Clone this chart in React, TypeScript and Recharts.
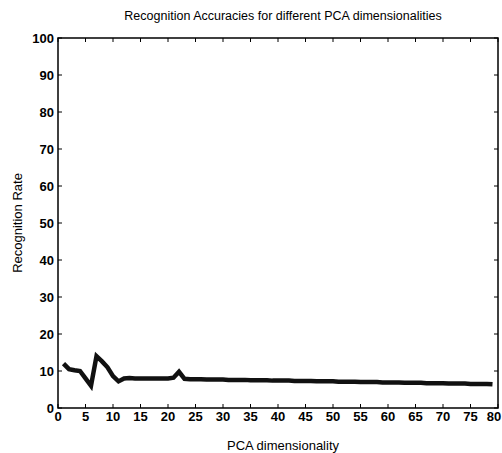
import React from "react";
import { LineChart, Line, XAxis, YAxis, ReferenceArea } from "recharts";

// PCA dimensions evaluated (1..79)
const dims = Array.from({ length: 79 }, (_, i) => i + 1);

// Recognition rate (%), one per dimension
const rates = [
  12, 10.5, 10.2, 10, 8, 6, 14, 12.6, 11, 8.6,
  7.2, 8, 8.1, 8, 8, 8, 8, 8, 8, 8,
  8.2, 9.8, 7.9, 7.8, 7.8, 7.8, 7.7, 7.7, 7.7, 7.7,
  7.6, 7.6, 7.6, 7.6, 7.5, 7.5, 7.5, 7.5, 7.4, 7.4,
  7.4, 7.4, 7.3, 7.3, 7.3, 7.3, 7.2, 7.2, 7.2, 7.2,
  7.1, 7.1, 7.1, 7.1, 7, 7, 7, 7, 6.9, 6.9,
  6.9, 6.9, 6.8, 6.8, 6.8, 6.8, 6.7, 6.7, 6.7, 6.7,
  6.6, 6.6, 6.6, 6.6, 6.5, 6.5, 6.5, 6.5, 6.4,
];

const xTicks = [0, 5, 10, 15, 20, 25, 30, 35, 40, 45, 50, 55, 60, 65, 70, 75, 80];
const yTicks = [0, 10, 20, 30, 40, 50, 60, 70, 80, 90, 100];

const data = dims.map((d, i) => ({ dim: d, rate: rates[i] }));

// plot box edges (px), used for the inward MATLAB-style ticks
const W = 502;
const H = 453;
const LEFT = 58;
const RIGHT = 498;
const TOP = 38;
const BOTTOM = 408;
const font = "'Liberation Sans', Arial, sans-serif";

const XTick = (props: any) => {
  const { x, payload } = props;
  // last label sits on the page edge, nudge it in a little
  const tx = payload.value === 80 ? x - 4 : x;
  return (
    <g>
      <line x1={x} x2={x} y1={BOTTOM} y2={BOTTOM - 4} stroke="#000" />
      <line x1={x} x2={x} y1={TOP} y2={TOP + 4} stroke="#000" />
      <text x={tx} y={421} textAnchor="middle" fontSize={13} fontWeight="bold" fontFamily={font} fill="#000">
        {payload.value}
      </text>
    </g>
  );
};

const YTick = (props: any) => {
  const { y, payload } = props;
  return (
    <g>
      <line x1={LEFT} x2={LEFT + 4} y1={y} y2={y} stroke="#000" />
      <line x1={RIGHT} x2={RIGHT - 4} y1={y} y2={y} stroke="#000" />
      <text x={54} y={y + 4.5} textAnchor="end" fontSize={13} fontWeight="bold" fontFamily={font} fill="#000">
        {payload.value}
      </text>
    </g>
  );
};

export default function App() {
  return (
    <div style={{ position: "absolute", left: 0, top: 0, width: W, height: H, background: "#fff", fontFamily: font }}>
      <div style={{ position: "absolute", top: 9, left: 0, width: W, paddingLeft: 64, boxSizing: "border-box", textAlign: "center", fontSize: 12.5, color: "#000" }}>
        Recognition Accuracies for different PCA dimensionalities
      </div>
      <div style={{ position: "absolute", top: 438, left: 0, width: W, paddingLeft: 64, boxSizing: "border-box", textAlign: "center", fontSize: 13, color: "#000" }}>
        PCA dimensionality
      </div>
      <div
        style={{
          position: "absolute",
          left: 17,
          top: 223,
          transform: "translate(-50%, -50%) rotate(-90deg)",
          whiteSpace: "nowrap",
          fontSize: 13,
          color: "#000",
        }}
      >
        Recognition Rate
      </div>
      <LineChart width={W} height={H} data={data} margin={{ top: TOP, right: W - RIGHT, bottom: 0, left: 0 }}>
        <XAxis
          dataKey="dim"
          type="number"
          domain={[0, 80]}
          ticks={xTicks}
          height={H - BOTTOM}
          axisLine={false}
          tickLine={false}
          tick={<XTick />}
          interval={0}
        />
        <YAxis
          type="number"
          domain={[0, 100]}
          ticks={yTicks}
          width={LEFT}
          axisLine={false}
          tickLine={false}
          tick={<YTick />}
          interval={0}
        />
        <ReferenceArea x1={0} x2={80} y1={0} y2={100} fill="none" stroke="#000" strokeWidth={1.5} />
        <Line
          type="linear"
          dataKey="rate"
          stroke="#111"
          strokeWidth={4.5}
          dot={false}
          isAnimationActive={false}
        />
      </LineChart>
    </div>
  );
}
